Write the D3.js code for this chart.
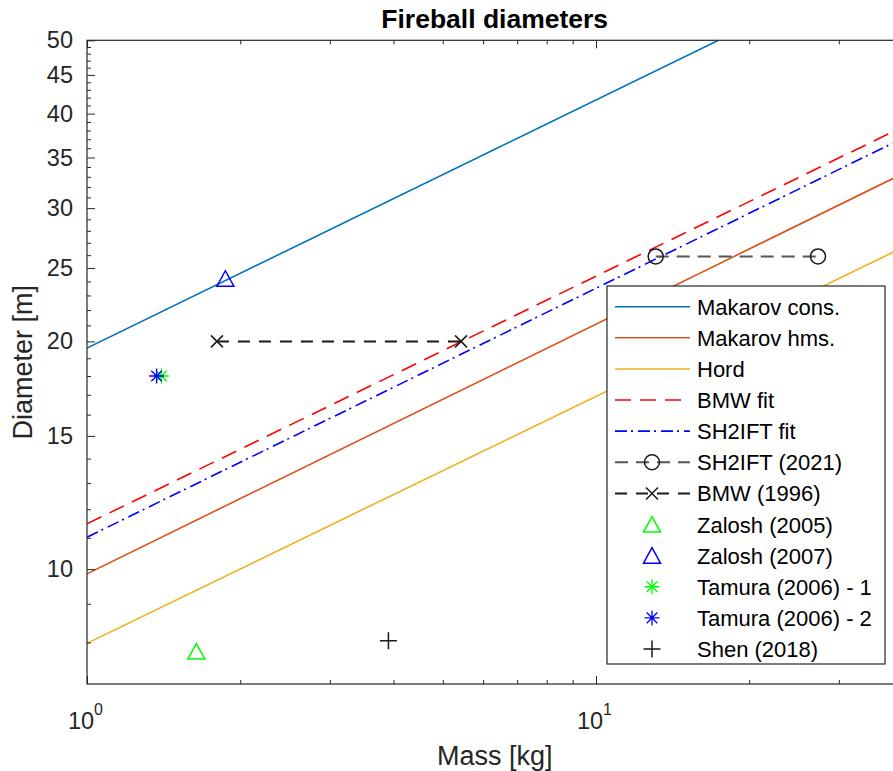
<!DOCTYPE html>
<html>
<head>
<meta charset="utf-8">
<script src="https://cdn.jsdelivr.net/npm/d3@7"></script>
<style>
  html, body { margin: 0; padding: 0; background: #fff; }
  svg { display: block; font-family: "Liberation Sans", Arial, Helvetica, sans-serif; }
</style>
</head>
<body>
<svg id="chart" width="893" height="771"></svg>
<script>
// ---- data (mass in kg, diameter in m) ----
// correlation lines: end points on the log-log axes
const makarovConsMass = [1, 17.4];
const makarovConsDiam = [19.6, 50];
const makarovHmsMass = [1, 40];
const makarovHmsDiam = [9.86, 33.3];
const hordMass = [1, 40];
const hordDiam = [7.98, 26.6];
const bmwFitMass = [1, 40];
const bmwFitDiam = [11.48, 38.4];
const sh2iftFitMass = [1, 40];
const sh2iftFitDiam = [11.02, 37.1];

// experiments
const sh2ift2021Mass = [13.1, 27.3];
const sh2ift2021Diam = [25.9, 25.9];
const bmw1996Mass = [1.80, 5.43];
const bmw1996Diam = [20, 20];
const zalosh2005Mass = [1.64];
const zalosh2005Diam = [7.78];
const zalosh2007Mass = [1.87];
const zalosh2007Diam = [24.2];
const tamura1Mass = [1.40];
const tamura1Diam = [18.0];
const tamura2Mass = [1.37];
const tamura2Diam = [18.0];
const shen2018Mass = [3.91];
const shen2018Diam = [8.04];

// axes
const xDomain = [1, 40];
const yDomain = [7.05, 50];
const xMajorTicks = [1, 10];
const xMinorTicks = [2, 3, 4, 5, 6, 7, 8, 9, 20, 30];
const yMajorTicks = [10, 15, 20, 25, 30, 35, 40, 45, 50];
const yMinorTicks = [8, 9, 11, 12, 13, 14, 16, 17, 18, 19, 21, 22, 23, 24, 26, 27, 28, 29,
                     31, 32, 33, 34, 36, 37, 38, 39, 41, 42, 43, 44, 46, 47, 48, 49];
const xExponentLabels = ["0", "1"];

const titleText = "Fireball diameters";
const xLabelText = "Mass [kg]";
const yLabelText = "Diameter [m]";

const legendNames = [
  "Makarov cons.", "Makarov hms.", "Hord", "BMW fit", "SH2IFT fit",
  "SH2IFT (2021)", "BMW (1996)", "Zalosh (2005)", "Zalosh (2007)",
  "Tamura (2006) - 1", "Tamura (2006) - 2", "Shen (2018)"
];

// ---- layout ----
const svg = d3.select("#chart");
const plotLeft = 87, plotTop = 40.3, plotBottom = 684;
const x = d3.scaleLog().domain(xDomain).range([plotLeft, 87 + 509 * Math.log10(40)]);
const y = d3.scaleLog().domain(yDomain).range([plotBottom, plotTop]);
const plotRight = x(xDomain[1]);
const axisColor = "#262626";

svg.append("defs").append("clipPath").attr("id", "plotclip")
  .append("rect").attr("x", plotLeft).attr("y", plotTop)
  .attr("width", plotRight - plotLeft).attr("height", plotBottom - plotTop);

// ---- series styles ----
const series = [
  { name: legendNames[0], mass: makarovConsMass, diam: makarovConsDiam, color: "#0072BD", dash: null, line: true },
  { name: legendNames[1], mass: makarovHmsMass, diam: makarovHmsDiam, color: "#D95319", dash: null, line: true },
  { name: legendNames[2], mass: hordMass, diam: hordDiam, color: "#EDB120", dash: null, line: true },
  { name: legendNames[3], mass: bmwFitMass, diam: bmwFitDiam, color: "#FF0000", dash: "16,9", line: true },
  { name: legendNames[4], mass: sh2iftFitMass, diam: sh2iftFitDiam, color: "#0000FF", dash: "12,4,2,5", line: true },
  { name: legendNames[5], mass: sh2ift2021Mass, diam: sh2ift2021Diam, color: "#555555", markerColor: "#1a1a1a", dash: "13,8", line: true, marker: "circle" },
  { name: legendNames[6], mass: bmw1996Mass, diam: bmw1996Diam, color: "#1a1a1a", markerColor: "#1a1a1a", dash: "12,9", line: true, marker: "x" },
  { name: legendNames[7], mass: zalosh2005Mass, diam: zalosh2005Diam, markerColor: "#00FF00", line: false, marker: "triangle" },
  { name: legendNames[8], mass: zalosh2007Mass, diam: zalosh2007Diam, markerColor: "#0000FF", line: false, marker: "triangle" },
  { name: legendNames[9], mass: tamura1Mass, diam: tamura1Diam, markerColor: "#00FF00", line: false, marker: "star" },
  { name: legendNames[10], mass: tamura2Mass, diam: tamura2Diam, markerColor: "#0000FF", line: false, marker: "star" },
  { name: legendNames[11], mass: shen2018Mass, diam: shen2018Diam, markerColor: "#1a1a1a", line: false, marker: "plus" }
];

// marker outlines, centred on (0,0)
function markerPath(kind) {
  switch (kind) {
    case "circle": {
      const r = 7.5;
      return `M${r},0A${r},${r} 0 1,1 ${-r},0A${r},${r} 0 1,1 ${r},0Z`;
    }
    case "triangle":
      return "M0,-8L8.5,7.5L-8.5,7.5Z";
    case "x":
      return "M-6,-6L6,6M-6,6L6,-6";
    case "plus":
      return "M-8.5,0L8.5,0M0,-8.5L0,8.5";
    case "star":
      return "M-7.5,0L7.5,0M0,-7.5L0,7.5M-5.3,-5.3L5.3,5.3M-5.3,5.3L5.3,-5.3";
  }
  return "";
}

function drawMarker(g, kind, color, cx, cy) {
  g.append("path")
    .attr("d", markerPath(kind))
    .attr("transform", `translate(${cx},${cy})`)
    .attr("fill", "none")
    .attr("stroke", color)
    .attr("stroke-width", kind === "star" ? 1.3 : 1.5);
}

// ---- plot area ----
const plot = svg.append("g").attr("clip-path", "url(#plotclip)");
const lineGen = d3.line().x(d => x(d[0])).y(d => y(d[1]));

series.forEach(s => {
  const pts = s.mass.map((m, i) => [m, s.diam[i]]);
  if (s.line) {
    plot.append("path")
      .datum(pts)
      .attr("d", lineGen)
      .attr("fill", "none")
      .attr("stroke", s.color)
      .attr("stroke-width", s.marker ? 2 : 1.6)
      .attr("stroke-dasharray", s.dash);
  }
});

const markerLayer = svg.append("g");
series.forEach(s => {
  if (!s.marker) return;
  s.mass.forEach((m, i) => drawMarker(markerLayer, s.marker, s.markerColor, x(m), y(s.diam[i])));
});

// ---- axes (inward ticks, box on top) ----
const tickFont = 23.5;

const gLeft = svg.append("g").attr("transform", `translate(${plotLeft},0)`)
  .call(d3.axisLeft(y).tickValues(yMajorTicks).tickFormat(d3.format("d"))
    .tickSizeInner(-8).tickSizeOuter(0).tickPadding(14));
gLeft.select(".domain").remove();
gLeft.selectAll(".tick line").attr("stroke", axisColor);
gLeft.selectAll(".tick text").attr("fill", axisColor).attr("font-size", tickFont)
  .attr("font-family", "Liberation Sans, Arial, sans-serif");

const gLeftMinor = svg.append("g").attr("transform", `translate(${plotLeft},0)`)
  .call(d3.axisLeft(y).tickValues(yMinorTicks).tickFormat("").tickSizeInner(-4).tickSizeOuter(0));
gLeftMinor.select(".domain").remove();
gLeftMinor.selectAll(".tick line").attr("stroke", axisColor);

const gBottom = svg.append("g").attr("transform", `translate(0,${plotBottom})`)
  .call(d3.axisBottom(x).tickValues(xMajorTicks).tickFormat("").tickSizeInner(-8).tickSizeOuter(0));
gBottom.select(".domain").remove();
gBottom.selectAll(".tick line").attr("stroke", axisColor);
gBottom.selectAll(".tick text").each(function(d, i) {
  const t = d3.select(this)
    .attr("y", 45).attr("dy", 0)
    .attr("fill", axisColor)
    .attr("font-size", tickFont)
    .attr("font-family", "Liberation Sans, Arial, sans-serif")
    .attr("text-anchor", "middle")
    .attr("x", -2);
  t.text("10");
  t.append("tspan").attr("dy", -14).attr("font-size", 16).text(xExponentLabels[i]);
});

const gBottomMinor = svg.append("g").attr("transform", `translate(0,${plotBottom})`)
  .call(d3.axisBottom(x).tickValues(xMinorTicks).tickFormat("").tickSizeInner(-4).tickSizeOuter(0));
gBottomMinor.select(".domain").remove();
gBottomMinor.selectAll(".tick line").attr("stroke", axisColor);

const gTop = svg.append("g").attr("transform", `translate(0,${plotTop})`)
  .call(d3.axisTop(x).tickValues(xMajorTicks).tickFormat("").tickSizeInner(-8).tickSizeOuter(0));
gTop.select(".domain").remove();
gTop.selectAll(".tick line").attr("stroke", axisColor);
const gTopMinor = svg.append("g").attr("transform", `translate(0,${plotTop})`)
  .call(d3.axisTop(x).tickValues(xMinorTicks).tickFormat("").tickSizeInner(-4).tickSizeOuter(0));
gTopMinor.select(".domain").remove();
gTopMinor.selectAll(".tick line").attr("stroke", axisColor);

// axes box
svg.append("rect")
  .attr("x", plotLeft).attr("y", plotTop)
  .attr("width", plotRight - plotLeft).attr("height", plotBottom - plotTop)
  .attr("fill", "none").attr("stroke", axisColor).attr("stroke-width", 1.2);

// ---- titles ----
const centerX = (plotLeft + plotRight) / 2;
svg.append("text")
  .attr("x", centerX).attr("y", 28)
  .attr("text-anchor", "middle")
  .attr("font-size", 26.5).attr("font-weight", "bold").attr("fill", "#000")
  .text(titleText);

svg.append("text")
  .attr("x", centerX).attr("y", 765)
  .attr("text-anchor", "middle")
  .attr("font-size", 27).attr("fill", axisColor)
  .text(xLabelText);

svg.append("text")
  .attr("transform", `translate(32,${(plotTop + plotBottom) / 2}) rotate(-90)`)
  .attr("text-anchor", "middle")
  .attr("font-size", 27).attr("fill", axisColor)
  .text(yLabelText);

// ---- legend ----
const lgX = 607, lgY = 286, lgW = 278, lgH = 378;
const legend = svg.append("g");
legend.append("rect")
  .attr("x", lgX).attr("y", lgY).attr("width", lgW).attr("height", lgH)
  .attr("fill", "#fff").attr("stroke", axisColor).attr("stroke-width", 1.2);

const rowY = d3.scaleLinear().domain([0, legendNames.length - 1]).range([306.7, 649]);
series.forEach((s, i) => {
  const cy = rowY(i);
  if (s.line) {
    legend.append("line")
      .attr("x1", 615).attr("x2", 690).attr("y1", cy).attr("y2", cy)
      .attr("stroke", s.color)
      .attr("stroke-width", s.marker ? 2 : 1.6)
      .attr("stroke-dasharray", s.dash);
  }
  if (s.marker) drawMarker(legend, s.marker, s.markerColor, 652, cy);
  legend.append("text")
    .attr("x", 697).attr("y", cy + 8)
    .attr("font-size", 22).attr("fill", "#000")
    .text(s.name);
});
</script>
</body>
</html>
